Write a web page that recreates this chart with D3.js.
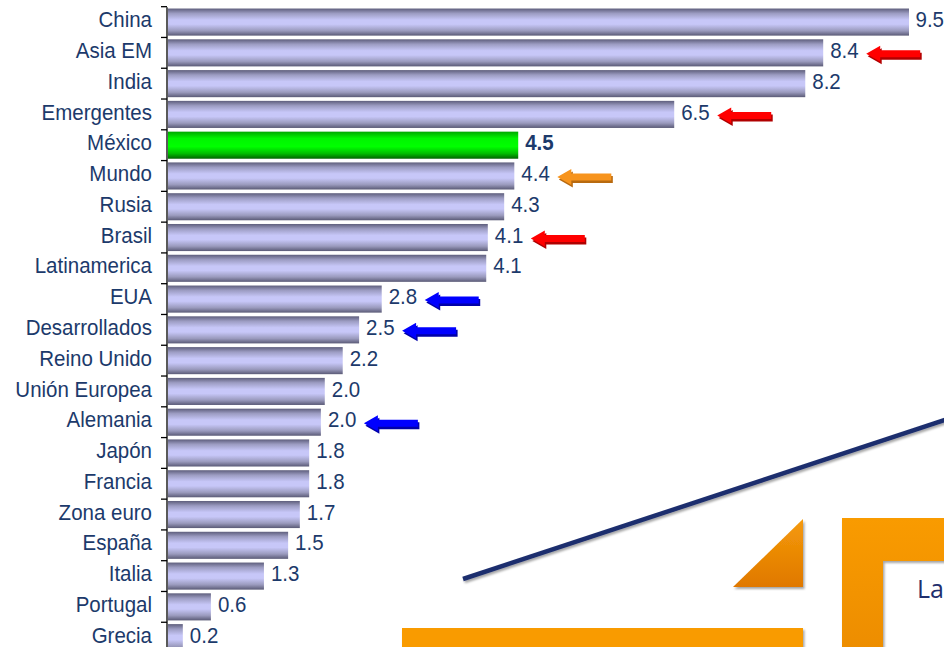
<!DOCTYPE html>
<html>
<head>
<meta charset="utf-8">
<script src="https://cdn.jsdelivr.net/npm/d3@7"></script>
<style>
  body { margin: 0; background: #fff; }
  svg { display: block; }
</style>
</head>
<body>
<div id="chart"></div>
<script>
const categories = ["China","Asia EM","India","Emergentes","México","Mundo","Rusia","Brasil",
  "Latinamerica","EUA","Desarrollados","Reino Unido","Unión Europea","Alemania","Japón",
  "Francia","Zona euro","España","Italia","Portugal","Grecia"]
// bar lengths
const values = [9.5,8.4,8.17,6.49,4.49,4.44,4.31,4.1,4.08,2.74,2.45,2.24,2.01,1.96,1.81,1.81,1.69,1.54,1.23,0.55,0.19]
const valueLabels = ["9.5","8.4","8.2","6.5","4.5","4.4","4.3","4.1","4.1","2.8","2.5","2.2","2.0","2.0","1.8","1.8","1.7","1.5","1.3","0.6","0.2"]
const highlight = "México"
const arrowNames = ["Asia EM","Emergentes","Mundo","Brasil","EUA","Desarrollados","Alemania"]
const arrowColors = ["red","red","orange","red","blue","blue","blue"]

const width = 944
const height = 647
const axisX = 167
const navy = "#1c3a6b"

const svg = d3.select("#chart").append("svg")
  .attr("width", width)
  .attr("height", height)

const defs = svg.append("defs")
function vGrad(id, stops) {
  const g = defs.append("linearGradient").attr("id", id)
    .attr("x1", 0).attr("y1", 0).attr("x2", 0).attr("y2", 1)
  stops.forEach(s => g.append("stop").attr("offset", s[0]).attr("stop-color", s[1]))
}
vGrad("barGrad", [["0%","#5e5e7c"],["18%","#9c9cc2"],["42%","#c7c7f8"],["58%","#c7c7f8"],["82%","#9a9abd"],["100%","#5a5a76"]])
vGrad("greenGrad", [["0%","#00a800"],["25%","#00f500"],["55%","#00ff00"],["80%","#00c000"],["100%","#006400"]])
vGrad("orangeGrad", [["0%","#f59a0a"],["100%","#e07800"]])
vGrad("frameGrad", [["0%","#f99b00"],["100%","#ec8c00"]])
const shadow = defs.append("filter").attr("id", "shadow")
  .attr("x", "-20%").attr("y", "-20%").attr("width", "150%").attr("height", "170%")
shadow.append("feDropShadow").attr("dx", 1.5).attr("dy", 2).attr("stdDeviation", 1.2)
  .attr("flood-color", "#000").attr("flood-opacity", 0.35)

const x = d3.scaleLinear()
  .domain([0, 9.5])
  .range([axisX + 1, 909])

const y = d3.scaleBand()
  .domain(categories)
  .range([7.3, 7.3 + 30.72 * categories.length])
  .paddingInner(0.12)
  .paddingOuter(0.04)

const data = categories.map((c, i) => ({ name: c, value: values[i], label: valueLabels[i] }))
const textY = d => y(d.name) + y.bandwidth() / 2 - 3

// bars
svg.selectAll("rect.bar")
  .data(data)
  .enter()
  .append("rect")
    .attr("class", "bar")
    .attr("x", x(0))
    .attr("y", d => y(d.name))
    .attr("width", d => x(d.value) - x(0))
    .attr("height", y.bandwidth())
    .attr("fill", d => d.name === highlight ? "url(#greenGrad)" : "url(#barGrad)")

// axis
const yAxis = svg.append("g")
  .attr("transform", "translate(" + axisX + ",0)")
  .call(d3.axisLeft(y).tickSize(0).tickFormat(""))
yAxis.select(".domain").attr("stroke", "#000").attr("stroke-width", 1.3)
  .attr("d", "M0," + y.range()[0] + "V" + height)
const step = y.step()
yAxis.selectAll("line.tk")
  .data(categories)
  .enter()
  .append("line")
    .attr("class", "tk")
    .attr("x1", -6).attr("x2", 0)
    .attr("y1", d => y(d) - step * y.paddingInner() / 2)
    .attr("y2", d => y(d) - step * y.paddingInner() / 2)
    .attr("stroke", "#000").attr("stroke-width", 1.3)

// category labels
svg.selectAll("text.cat")
  .data(data)
  .enter()
  .append("text")
    .attr("class", "cat")
    .attr("transform", d => "translate(152," + textY(d) + ") scale(1,1.1)")
    .attr("dy", "0.36em")
    .attr("text-anchor", "end")
    .attr("font-family", "'Liberation Sans', Arial, sans-serif")
    .attr("font-size", "20.5px")
    .attr("fill", navy)
    .text(d => d.name)

// value labels
svg.selectAll("text.val")
  .data(data)
  .enter()
  .append("text")
    .attr("class", "val")
    .attr("dy", "0.36em")
    .attr("font-family", "'Liberation Sans', Arial, sans-serif")
    .attr("font-size", "20.5px")
    .attr("font-weight", d => d.name === highlight ? "bold" : "normal")
    .attr("fill", navy)
    .text(d => d.label)
    .attr("transform", function (d) {
      const w = this.getComputedTextLength()
      const tx = Math.min(x(d.value) + 7, width - w)
      return "translate(" + tx + "," + textY(d) + ") scale(1,1.1)"
    })

// arrows
const arrowFill = { red: "#ff0000", orange: "#f7941d", blue: "#0000ff" }
const arrowDark = { red: "#b00000", orange: "#b86a10", blue: "#0000a8" }
const arrowPath = "M0,0 L14,-8 L14,-3.5 L54,-3.5 L54,3.5 L14,3.5 L14,8 Z"
const arrows = svg.selectAll("g.arrow")
  .data(arrowNames.map((n, i) => ({ name: n, color: arrowColors[i], value: values[categories.indexOf(n)] })))
  .enter()
  .append("g")
    .attr("class", "arrow")
    .attr("transform", d => "translate(" + (x(d.value) + 43) + "," + (y(d.name) + y.bandwidth() / 2 + 1) + ")")
arrows.append("path")
  .attr("d", arrowPath)
  .attr("transform", "translate(1.5,2.5)")
  .attr("fill", d => arrowDark[d.color])
arrows.append("path")
  .attr("d", arrowPath)
  .attr("fill", d => arrowFill[d.color])

// slide decorations
const deco = svg.append("g").attr("filter", "url(#shadow)")
deco.append("line")
  .attr("x1", 463).attr("y1", 579)
  .attr("x2", 960).attr("y2", 415)
  .attr("stroke", "#1f2f6e").attr("stroke-width", 4.5)
deco.append("path")
  .attr("d", "M733,587 L803,519 L803,587 Z")
  .attr("fill", "url(#orangeGrad)")
deco.append("rect")
  .attr("x", 402).attr("y", 628).attr("width", 401).attr("height", 30)
  .attr("fill", "#f99b00")
deco.append("path")
  .attr("d", "M842,518 H960 V561 H883 V660 H842 Z")
  .attr("fill", "url(#frameGrad)")
svg.append("text")
  .attr("x", 917).attr("y", 598)
  .attr("font-family", "'Open Sans', 'Liberation Sans', sans-serif")
  .attr("font-size", "25px")
  .attr("fill", "#1f2f6e")
  .text("La")
</script>
</body>
</html>
